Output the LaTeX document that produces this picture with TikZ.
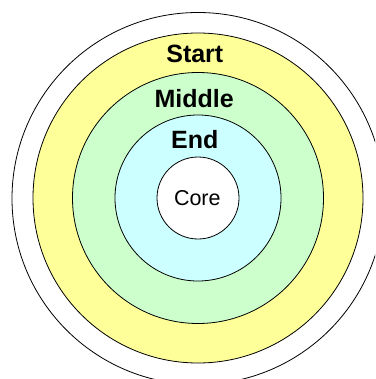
\documentclass[tikz,border=0pt]{standalone}
\usepackage{fontspec}
\setmainfont{Liberation Sans}
\definecolor{ringyellow}{HTML}{FFFF99}
\definecolor{ringgreen}{HTML}{CCFFCC}
\definecolor{ringcyan}{HTML}{CCFFFF}
\begin{document}
\begin{tikzpicture}[x=1pt,y=-1pt,
  ring/.style={circle,draw=black,line width=0.8pt,inner sep=0pt},
  bigtext/.style={font=\fontsize{25}{25}\selectfont\bfseries,anchor=base,inner sep=0pt},
  coretext/.style={font=\fontsize{21.5}{21.5}\selectfont,anchor=base,inner sep=0pt}]
\useasboundingbox (0,0) rectangle (375,379);
\clip (0,0) rectangle (375,379);
\node[ring,fill=white,minimum size=372pt] (outer) at (198,198.5) {};
\node[ring,fill=ringyellow,minimum size=330pt] (yellow) at (198,198) {};
\node[ring,fill=ringgreen,minimum size=251pt] (green) at (198,198) {};
\node[ring,fill=ringcyan,minimum size=166pt] (cyan) at (198,198) {};
\node[ring,fill=white,minimum size=82pt] (core) at (198,198) {};
\node[bigtext] (start) at (194.8,62.3) {Start};
\node[bigtext] (middle) at (194.2,107.3) {Middle};
\node[bigtext] (end) at (194.7,148.3) {End};
\node[coretext] (coretxt) at (197.3,205) {Core};
\end{tikzpicture}
\end{document}
